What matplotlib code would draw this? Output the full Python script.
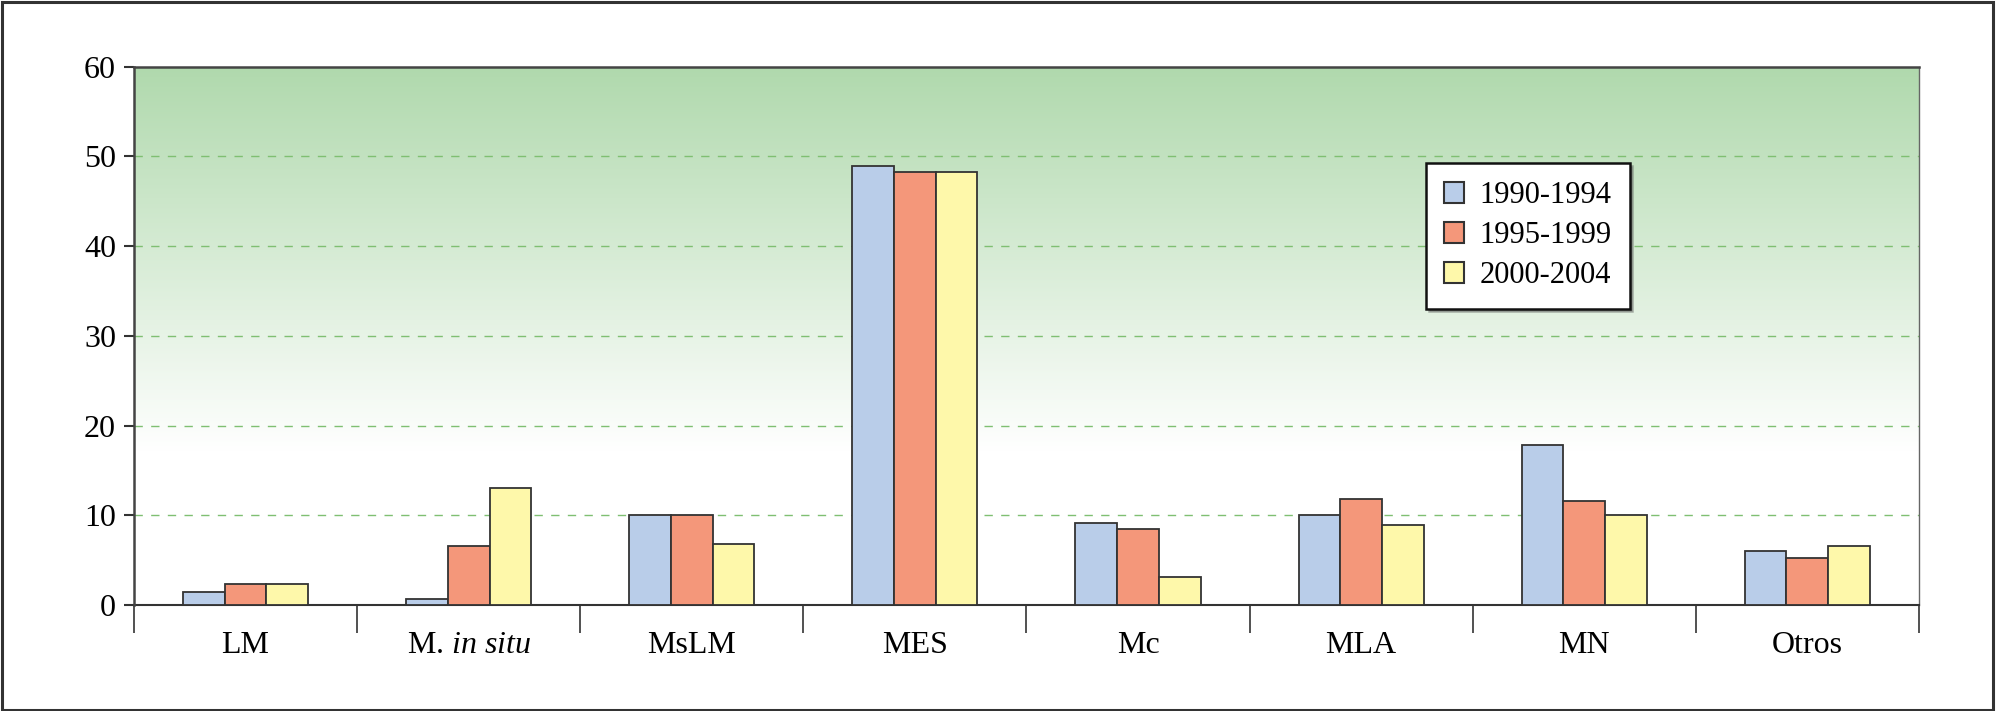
#!/usr/bin/env python
# coding: utf-8

import numpy as np
import matplotlib as mpl
mpl.use('Agg')
import matplotlib.pyplot as plt
from matplotlib.colors import LinearSegmentedColormap
from matplotlib.patches import Rectangle

mpl.rc('font', family='Liberation Serif', size=23)
mpl.rc('mathtext', fontset='custom', rm='Liberation Serif', it='Liberation Serif:italic')

#%% data
categories = ['LM', r'M. $\mathit{in\ situ}$', 'MsLM', 'MES', 'Mc', 'MLA', 'MN', 'Otros']
periods = ['1990-1994', '1995-1999', '2000-2004']
v_1990_1994 = [1.4, 0.7, 10.0, 48.9, 9.1, 10.0, 17.8, 6.0]
v_1995_1999 = [2.3, 6.6, 10.0, 48.3, 8.5, 11.8, 11.6, 5.2]
v_2000_2004 = [2.3, 13.0, 6.8, 48.3, 3.1, 8.9, 10.0, 6.6]
y_ticks = [0, 10, 20, 30, 40, 50, 60]

bar_colors = ['#b9cde9', '#f4977a', '#fef8aa']
edge = '#333333'

#%% figure
fig = plt.figure(figsize=(19.97, 7.11), dpi=100)
ax = fig.add_axes([0.0671, 0.1491, 0.8938, 0.7571])

# green gradient background fading to white
cmap = LinearSegmentedColormap.from_list('bg', ['#ffffff', '#b0d9ad'])
yy = np.linspace(0, 60, 300).reshape(-1, 1)
ax.imshow(yy, extent=[-0.5, 7.5, 0, 60], origin='lower', aspect='auto',
          cmap=cmap, vmin=17, vmax=60, zorder=0, interpolation='bilinear')

x = np.arange(len(categories))
w = 0.187
for k, (vals, lab) in enumerate(zip([v_1990_1994, v_1995_1999, v_2000_2004], periods)):
    ax.bar(x + (k - 1) * w, vals, w, color=bar_colors[k], edgecolor=edge,
           linewidth=1.3, label=lab, zorder=3)

ax.set_xlim(-0.5, 7.5)
ax.set_ylim(0, 60)

# dashed grid, not on 0 and 60
for g in y_ticks[1:-1]:
    ax.axhline(g, color='#7fbf72', lw=1.0, ls=(0, (6, 6)), zorder=1)

ax.set_yticks(y_ticks)
ax.tick_params(axis='y', direction='out', length=7, width=1.5, color=edge, pad=6)
ax.set_xticks(x)
ax.set_xticklabels(categories)
ax.set_xticks(np.arange(-0.5, 8, 1), minor=True)
ax.tick_params(axis='x', which='major', length=0, pad=19)
ax.tick_params(axis='x', which='minor', direction='out', length=20, width=1.2, color=edge)

for s in ['left', 'top']:
    ax.spines[s].set_color('#444444')
    ax.spines[s].set_linewidth(1.8)
ax.spines['bottom'].set_color(edge)
ax.spines['bottom'].set_linewidth(1.5)
ax.spines['right'].set_color('#666666')
ax.spines['right'].set_linewidth(1.0)
ax.spines['left'].set_zorder(5)

leg = ax.legend(loc='upper left', bbox_to_anchor=(0.7237, 0.821), frameon=True,
                fancybox=False, shadow={'color': '0.35', 'alpha': 0.45},
                fontsize=22, handlelength=0.65, handleheight=0.65, handletextpad=0.5,
                labelspacing=0.36, borderpad=0.6, borderaxespad=0)
leg.get_frame().set_edgecolor('#111111')
leg.get_frame().set_linewidth(1.8)
leg.get_frame().set_alpha(1)
for h in leg.legend_handles:
    h.set_linewidth(1.5)

# outer frame of the picture
fig.patches.append(Rectangle((0.001, 0.002), 0.997, 0.995, transform=fig.transFigure,
                             fill=False, edgecolor='#333333', linewidth=2.2))

fig.savefig('out.png', dpi=100)
